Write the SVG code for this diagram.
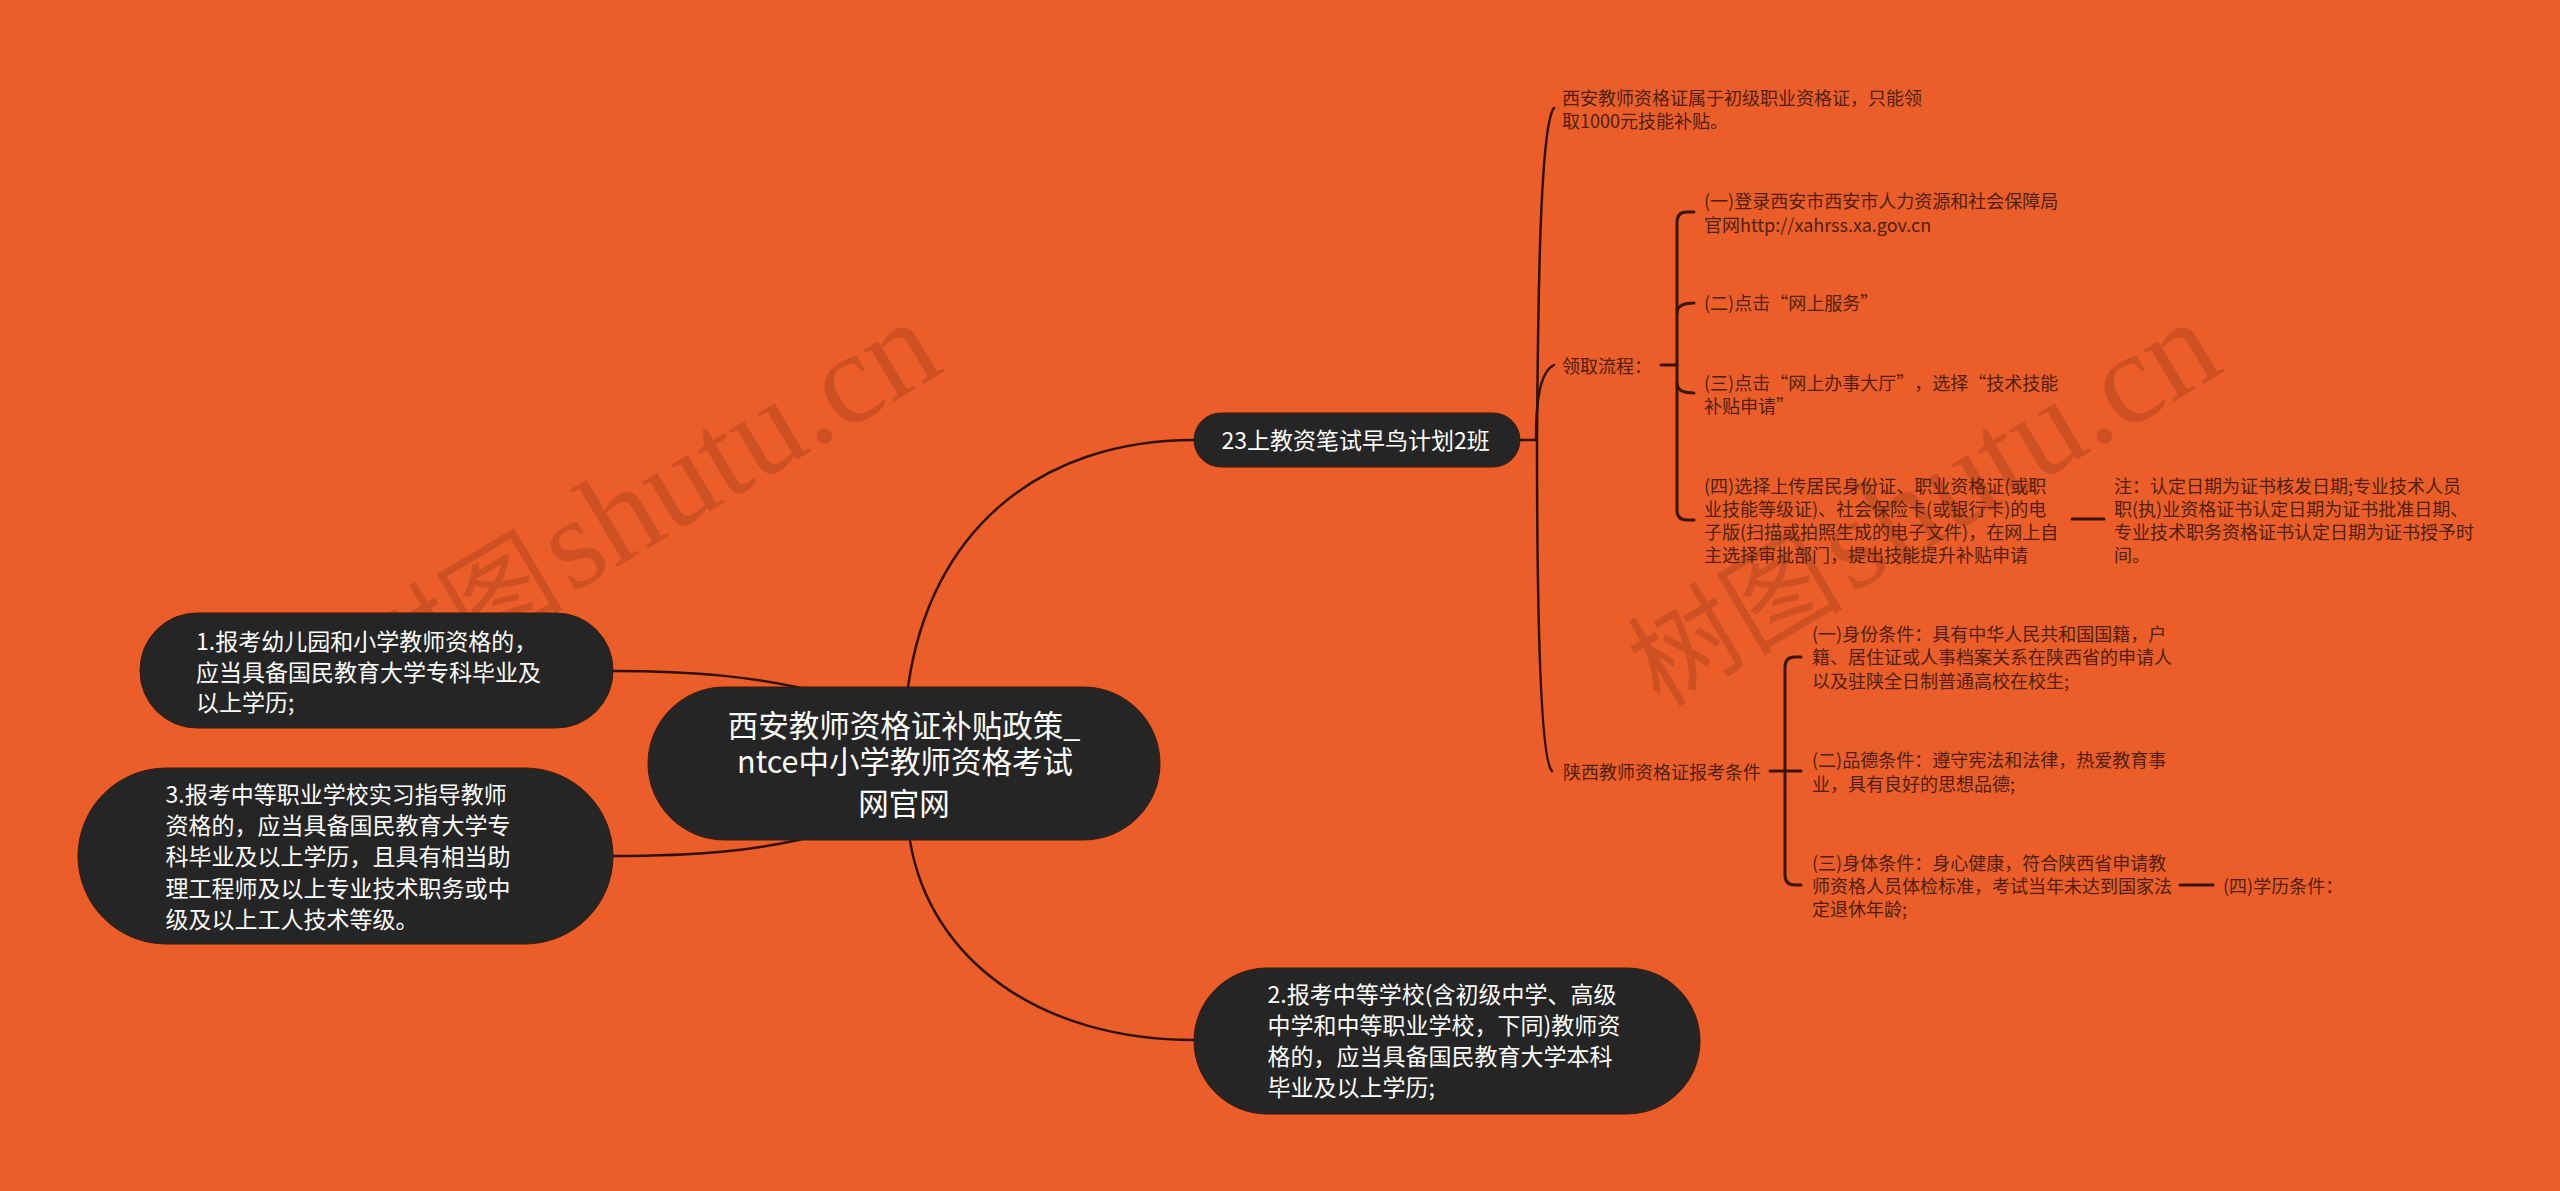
<svg xmlns="http://www.w3.org/2000/svg" width="2560" height="1191" viewBox="0 0 2560 1191">
<style>
text{font-family:"Noto Sans CJK SC","Liberation Sans",sans-serif;text-spacing-trim:space-all}
.bg{fill:#ec5e29}
.pill{fill:#252525;stroke:#3a1a0c;stroke-width:1}
.w23{fill:#fff;font-size:23px}
.w30{fill:#fff;font-size:30.5px;text-anchor:middle}
.s18{fill:#4f1f0a;font-size:18px}
.wm{font-family:"Liberation Serif","Noto Sans CJK SC",serif;font-size:130px;fill:#5a2010;fill-opacity:.2}
.wmc{font-size:108px}
.c{fill:none;stroke:#2e1206;stroke-width:2.5;stroke-linecap:round}
.b{fill:none;stroke:#3a1505;stroke-width:3;stroke-linecap:round}
</style>
<rect class="bg" x="0" y="0" width="2560" height="1191"/>
<g id="watermarks">
<text class="wm" transform="translate(380 708) rotate(-30.8)"><tspan class="wmc">树图 </tspan><tspan dx="-20">shutu.cn</tspan></text>
<text class="wm" transform="translate(1660 708) rotate(-30.8)"><tspan class="wmc">树图 </tspan><tspan dx="-20">shutu.cn</tspan></text>
</g>
<g id="connectors">
<path class="c" d="M908 687C930 530 1040 440 1194 440"/>
<path class="c" d="M910 841C930 960 1040 1040 1194 1040"/>
<path class="c" d="M613 671C690 671 760 676 830 695"/>
<path class="c" d="M613 856C690 856 760 852 830 832"/>
<path class="c" d="M1520 440H1537"/>
<path class="c" d="M1537 440C1538 300 1540 125 1554 108"/>
<path class="c" d="M1536 440C1536 400 1540 372 1554 365"/>
<path class="c" d="M1537 440C1537 600 1540 760 1552 771"/>
<path class="b" d="M1661 365H1677"/>
<path class="b" d="M1694 212H1687Q1677 212 1677 222V510Q1677 520 1687 520H1694"/>
<path class="b" d="M1677 313Q1677 303 1694 303"/>
<path class="b" d="M1677 383Q1677 393 1694 393"/>
<path class="b" d="M2072 519H2104"/>
<path class="b" d="M1770 771H1801"/>
<path class="b" d="M1801 657H1795Q1785 657 1785 667V875Q1785 885 1795 885H1801"/>
<path class="b" d="M2180 885H2213"/>
</g>
<g id="node-center">
<rect class="pill" x="648" y="687" width="512" height="153" rx="76.5"/>
<text class="w30" x="904" y="737">西安教师资格证补贴政策_</text>
<text class="w30" x="905" y="773">ntce中小学教师资格考试</text>
<text class="w30" x="904" y="815">网官网</text>
</g>
<g id="node-1">
<rect class="pill" x="140" y="613" width="473" height="115" rx="57"/>
<text class="w23" x="196" y="650">1.报考幼儿园和小学教师资格的，</text>
<text class="w23" x="196" y="680.500">应当具备国民教育大学专科毕业及</text>
<text class="w23" x="196" y="711">以上学历;</text>
</g>
<g id="node-3">
<rect class="pill" x="78" y="768" width="535" height="176" rx="88"/>
<text class="w23" x="165.500" y="803">3.报考中等职业学校实习指导教师</text>
<text class="w23" x="165.500" y="834">资格的，应当具备国民教育大学专</text>
<text class="w23" x="165.500" y="865">科毕业及以上学历，且具有相当助</text>
<text class="w23" x="165.500" y="896.500">理工程师及以上专业技术职务或中</text>
<text class="w23" x="165.500" y="928">级及以上工人技术等级。</text>
</g>
<g id="node-2">
<rect class="pill" x="1194" y="968" width="506" height="146" rx="73"/>
<text class="w23" x="1267.500" y="1003">2.报考中等学校(含初级中学、高级</text>
<text class="w23" x="1267.500" y="1034">中学和中等职业学校，下同)教师资</text>
<text class="w23" x="1267.500" y="1065">格的，应当具备国民教育大学本科</text>
<text class="w23" x="1267.500" y="1095.500">毕业及以上学历;</text>
</g>
<g id="node-top">
<rect class="pill" x="1194" y="413" width="326" height="54" rx="27"/>
<text class="w23" x="1221.500" y="448.500">23上教资笔试早鸟计划2班</text>
</g>
<g id="leaf-subsidy">
<text class="s18" x="1562" y="104.500">西安教师资格证属于初级职业资格证，只能领</text>
<text class="s18" x="1562" y="128">取1000元技能补贴。</text>
</g>
<g id="leaf-process">
<text class="s18" x="1562" y="372.500">领取流程：</text>
</g>
<g id="leaf-step1">
<text class="s18" x="1704" y="208">(一)登录西安市西安市人力资源和社会保障局</text>
<text class="s18" x="1704" y="231.500">官网http://xahrss.xa.gov.cn</text>
</g>
<g id="leaf-step2">
<text class="s18" x="1704" y="309.500">(二)点击“网上服务”</text>
</g>
<g id="leaf-step3">
<text class="s18" x="1704" y="390">(三)点击“网上办事大厅”，选择“技术技能</text>
<text class="s18" x="1704" y="413">补贴申请”</text>
</g>
<g id="leaf-step4">
<text class="s18" x="1704" y="493">(四)选择上传居民身份证、职业资格证(或职</text>
<text class="s18" x="1704" y="516">业技能等级证)、社会保险卡(或银行卡)的电</text>
<text class="s18" x="1704" y="539">子版(扫描或拍照生成的电子文件)，在网上自</text>
<text class="s18" x="1704" y="562">主选择审批部门，提出技能提升补贴申请</text>
</g>
<g id="leaf-note">
<text class="s18" x="2114" y="493">注：认定日期为证书核发日期;专业技术人员</text>
<text class="s18" x="2114" y="516">职(执)业资格证书认定日期为证书批准日期、</text>
<text class="s18" x="2114" y="539">专业技术职务资格证书认定日期为证书授予时</text>
<text class="s18" x="2114" y="562">间。</text>
</g>
<g id="leaf-conditions">
<text class="s18" x="1563" y="778.500">陕西教师资格证报考条件</text>
</g>
<g id="leaf-cond1">
<text class="s18" x="1812" y="640.500">(一)身份条件：具有中华人民共和国国籍，户</text>
<text class="s18" x="1812" y="664">籍、居住证或人事档案关系在陕西省的申请人</text>
<text class="s18" x="1812" y="688">以及驻陕全日制普通高校在校生;</text>
</g>
<g id="leaf-cond2">
<text class="s18" x="1812" y="766.500">(二)品德条件：遵守宪法和法律，热爱教育事</text>
<text class="s18" x="1812" y="790.500">业，具有良好的思想品德;</text>
</g>
<g id="leaf-cond3">
<text class="s18" x="1812" y="869.500">(三)身体条件：身心健康，符合陕西省申请教</text>
<text class="s18" x="1812" y="892.500">师资格人员体检标准，考试当年未达到国家法</text>
<text class="s18" x="1812" y="915.500">定退休年龄;</text>
</g>
<g id="leaf-cond4">
<text class="s18" x="2223" y="892.500">(四)学历条件：</text>
</g>
</svg>
